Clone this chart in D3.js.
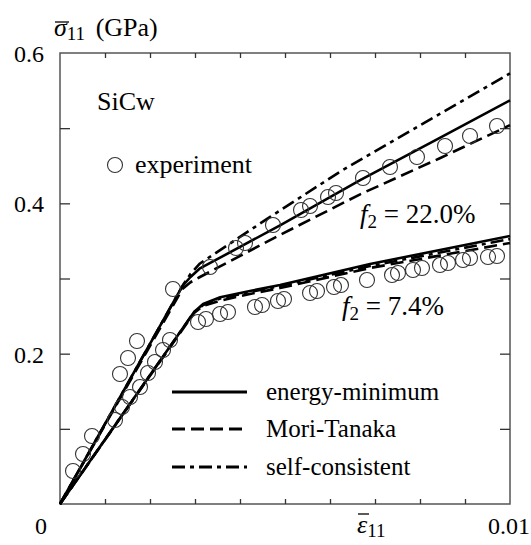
<!DOCTYPE html>
<html>
<head>
<meta charset="utf-8">
<script src="https://cdn.jsdelivr.net/npm/d3@7"></script>
<style>
  body { margin: 0; background: #fff; }
</style>
</head>
<body>
<div id="chart"></div>
<script>
// tick positions
const xTicks = [0.001, 0.002, 0.003, 0.004, 0.005, 0.006, 0.007, 0.008, 0.009];
const yTicks = [0.1, 0.2, 0.3, 0.4, 0.5];
const yLabels = [0.2, 0.4, 0.6];

// model curves [strain, stress (GPa)], f2 = 22.0%
const energy22 = [[0, 0], [0.00272, 0.290], [0.0029, 0.302], [0.0031, 0.313], [0.0049, 0.371], [0.00667, 0.431], [0.00844, 0.487], [0.01, 0.537]];
const mori22 = [[0, 0], [0.00272, 0.286], [0.0029, 0.295], [0.00311, 0.302], [0.00489, 0.358], [0.00667, 0.412], [0.00844, 0.460], [0.01, 0.504]];
const self22 = [[0, 0], [0.00274, 0.292], [0.0029, 0.306], [0.00311, 0.320], [0.00467, 0.382], [0.00622, 0.442], [0.00844, 0.519], [0.01, 0.573]];

// model curves, f2 = 7.4%
const energy74 = [[0, 0], [0.00298, 0.2554], [0.00318, 0.2661], [0.00356, 0.275], [0.00422, 0.2834], [0.00489, 0.2913], [0.00689, 0.3193], [0.01, 0.3565]];
const mori74 = [[0, 0], [0.00298, 0.2541], [0.00318, 0.2634], [0.00356, 0.2705], [0.00422, 0.2794], [0.00489, 0.2873], [0.00689, 0.314], [0.01, 0.3472]];
const self74 = [[0, 0], [0.00298, 0.2554], [0.00318, 0.2647], [0.00356, 0.2735], [0.00422, 0.282], [0.00489, 0.29], [0.00689, 0.3166], [0.01, 0.3525]];

// experiment points
const exp22 = [[0.000289, 0.0439], [0.000511, 0.0665], [0.000711, 0.0905], [0.001333, 0.1729], [0.001511, 0.1942],
  [0.001711, 0.2168], [0.002511, 0.286], [0.003333, 0.3153], [0.003911, 0.3406], [0.004111, 0.3472],
  [0.004733, 0.3712], [0.005356, 0.3911], [0.005556, 0.3964], [0.005956, 0.4084], [0.006133, 0.4137],
  [0.006733, 0.4337], [0.007333, 0.4483], [0.007933, 0.4616], [0.008556, 0.4763], [0.009111, 0.4896], [0.009711, 0.5029]];
const exp74 = [[0.001222, 0.1117], [0.001378, 0.129], [0.001556, 0.1423], [0.001778, 0.1556], [0.001956, 0.1743],
  [0.002111, 0.1889], [0.002289, 0.2049], [0.002444, 0.2182], [0.003067, 0.2421], [0.003244, 0.2461],
  [0.003556, 0.2528], [0.003733, 0.2554], [0.004333, 0.2621], [0.004489, 0.2647], [0.004844, 0.2701],
  [0.004978, 0.2727], [0.005556, 0.2807], [0.005711, 0.2834], [0.006089, 0.2887], [0.006244, 0.2913],
  [0.006822, 0.298], [0.007378, 0.3046], [0.007511, 0.3073], [0.007844, 0.3113], [0.008044, 0.314],
  [0.008444, 0.3179], [0.008622, 0.3206], [0.008956, 0.3246], [0.009111, 0.3273], [0.009511, 0.3286], [0.009711, 0.3299]];

const legendNames = ["energy-minimum", "Mori-Tanaka", "self-consistent"];
const dashes = [null, "13,6", "13,5,4,5"];

// dimensions
const W = 531, H = 545;
const margin = {top: 53, right: 21, bottom: 41, left: 60};
const width = W - margin.left - margin.right,
      height = H - margin.top - margin.bottom;
const serif = "'Liberation Serif', 'DejaVu Serif', serif";

const svg = d3.select("#chart").append("svg")
  .attr("width", W).attr("height", H)
  .attr("font-family", serif);
const g = svg.append("g").attr("transform", `translate(${margin.left},${margin.top})`);

const x = d3.scaleLinear().domain([0, 0.01]).range([0, width]);
const y = d3.scaleLinear().domain([0, 0.6]).range([height, 0]);

// frame
g.append("rect").attr("width", width).attr("height", height)
  .attr("fill", "none").attr("stroke", "#555").attr("stroke-width", 1.5);

// inner ticks on all four sides
const axisStyle = sel => { sel.select(".domain").remove(); sel.selectAll("line").attr("stroke", "#333").attr("stroke-width", 1.3); };
g.append("g").attr("transform", `translate(0,${height})`)
  .call(d3.axisBottom(x).tickValues(xTicks).tickSize(-5).tickFormat("")).call(axisStyle);
g.append("g")
  .call(d3.axisTop(x).tickValues(xTicks).tickSize(-5).tickFormat("")).call(axisStyle);
g.append("g")
  .call(d3.axisLeft(y).tickValues(yTicks).tickSize(-10).tickFormat("")).call(axisStyle);
g.append("g").attr("transform", `translate(${width},0)`)
  .call(d3.axisRight(y).tickValues(yTicks).tickSize(-10).tickFormat("")).call(axisStyle);

// tick labels
g.selectAll(".ylab").data(yLabels).join("text")
  .attr("x", -16).attr("y", d => y(d) + 9)
  .attr("text-anchor", "end").attr("font-size", 24)
  .text(d => d.toFixed(1));
g.append("text").attr("x", -19).attr("y", height + 30)
  .attr("text-anchor", "middle").attr("font-size", 24).text("0");
g.append("text").attr("x", x(0.01) - 1).attr("y", height + 30)
  .attr("text-anchor", "middle").attr("font-size", 24).text("0.01");

// axis titles (overbar drawn as a short line)
const yt = svg.append("text").attr("x", 54).attr("y", 36).attr("font-size", 26);
yt.append("tspan").attr("font-style", "italic").text("σ");
yt.append("tspan").attr("dy", 4).attr("font-size", 19).text("11");
yt.append("tspan").attr("dy", -4).attr("dx", 4).text(" (GPa)");
svg.append("line").attr("x1", 55).attr("x2", 69).attr("y1", 22).attr("y2", 22)
  .attr("stroke", "#000").attr("stroke-width", 1.3);

const xt = svg.append("text").attr("x", 357).attr("y", 533).attr("font-size", 26);
xt.append("tspan").attr("font-style", "italic").text("ε");
xt.append("tspan").attr("dy", 4).attr("font-size", 19).text("11");
svg.append("line").attr("x1", 358).attr("x2", 369).attr("y1", 514).attr("y2", 514)
  .attr("stroke", "#000").attr("stroke-width", 1.3);

// curves
const line = d3.line().x(d => x(d[0])).y(d => y(d[1]));
const curves = [
  {data: energy22, dash: dashes[0]}, {data: mori22, dash: dashes[1]}, {data: self22, dash: dashes[2]},
  {data: energy74, dash: dashes[0]}, {data: mori74, dash: dashes[1]}, {data: self74, dash: dashes[2]}
];
g.selectAll(".curve").data(curves).join("path")
  .attr("d", d => line(d.data))
  .attr("fill", "none").attr("stroke", "#000").attr("stroke-width", 2.6)
  .attr("stroke-linejoin", "round")
  .attr("stroke-dasharray", d => d.dash);

// experiment circles
g.selectAll(".pt").data(exp22.concat(exp74)).join("circle")
  .attr("cx", d => x(d[0])).attr("cy", d => y(d[1])).attr("r", 7.5)
  .attr("fill", "none").attr("stroke", "#333").attr("stroke-width", 1.1);

// annotations
svg.append("text").attr("x", 97).attr("y", 110).attr("font-size", 26).text("SiCw");
svg.append("circle").attr("cx", 115).attr("cy", 165).attr("r", 7.5)
  .attr("fill", "none").attr("stroke", "#333").attr("stroke-width", 1.1);
svg.append("text").attr("x", 135).attr("y", 173).attr("font-size", 26).text("experiment");

const f1 = svg.append("text").attr("x", 360).attr("y", 223).attr("font-size", 27);
f1.append("tspan").attr("font-style", "italic").text("f");
f1.append("tspan").attr("dy", 5).attr("font-size", 19).text("2");
f1.append("tspan").attr("dy", -5).text(" = 22.0%");

const f2 = svg.append("text").attr("x", 342).attr("y", 315).attr("font-size", 27);
f2.append("tspan").attr("font-style", "italic").text("f");
f2.append("tspan").attr("dy", 5).attr("font-size", 19).text("2");
f2.append("tspan").attr("dy", -5).text(" = 7.4%");

// legend
const legendY = [392, 429, 467];
const lg = svg.selectAll(".leg").data(legendNames).join("g")
  .attr("transform", (d, i) => `translate(172,${legendY[i]})`);
lg.append("line").attr("x1", 0).attr("x2", 75)
  .attr("stroke", "#000").attr("stroke-width", 2.8)
  .attr("stroke-dasharray", (d, i) => dashes[i]);
lg.append("text").attr("x", 94).attr("y", 8).attr("font-size", 25).text(d => d);
</script>
</body>
</html>
